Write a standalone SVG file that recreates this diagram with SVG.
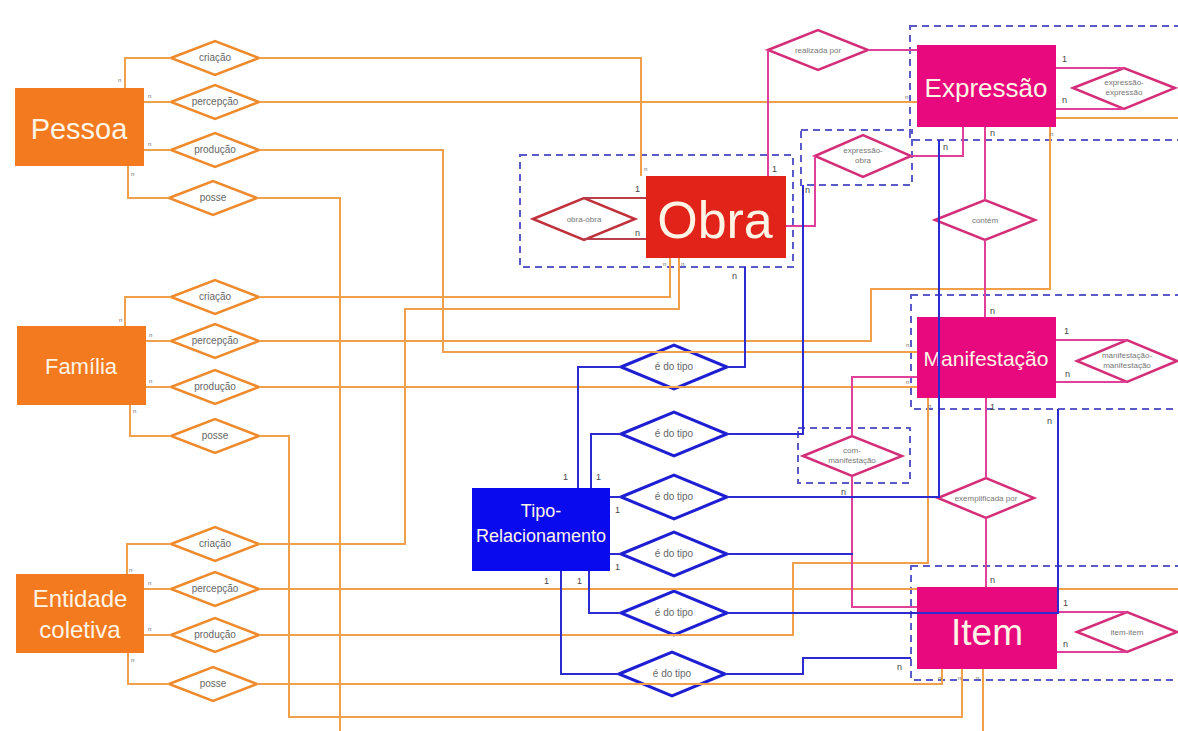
<svg xmlns="http://www.w3.org/2000/svg" width="1178" height="731" viewBox="0 0 1178 731">
<style>
.bg{fill:#fff}
.ent-o{fill:#F47A20}
.ent-txt{fill:#FFF5E6;font-family:"Liberation Sans",Arial,sans-serif;text-anchor:middle}
.d-o{fill:#fff;stroke:#EE8A2C;stroke-width:2.5}
.d-p{fill:#fff;stroke:#D42E78;stroke-width:2.5}
.d-r{fill:#fff;stroke:#C0303A;stroke-width:2.5}
.d-b{fill:#fff;stroke:#1E1ED2;stroke-width:3}
.dt{fill:#666;font-family:"Liberation Sans",Arial,sans-serif;font-size:10px;text-anchor:middle}
.dt2{fill:#777;font-family:"Liberation Sans",Arial,sans-serif;font-size:8px;text-anchor:middle}
.c-o{fill:none;stroke:#F0A04A;stroke-width:2}
.c-p{fill:none;stroke:#E0409A;stroke-width:2}
.c-r{fill:none;stroke:#B8404A;stroke-width:2}
.c-b{fill:none;stroke:#2B2BD0;stroke-width:2}
.box{fill:none;stroke:#5A5AC8;stroke-width:2;stroke-dasharray:7 5}
.card{fill:#444;font-family:"Liberation Sans",Arial,sans-serif;font-size:9px}
.cs{fill:#666;font-family:"Liberation Sans",Arial,sans-serif;font-size:6px}
</style>
<rect class="bg" x="0" y="0" width="1178" height="731"/>

<g id="dashed-boxes">
<rect class="box" x="520" y="155" width="273" height="112"/>
<rect class="box" x="801" y="130" width="111" height="55"/>
<rect class="box" x="798" y="428" width="112" height="55"/>
<rect class="box" x="910" y="26" width="290" height="114"/>
<rect class="box" x="911" y="295" width="290" height="114"/>
<rect class="box" x="911" y="566" width="290" height="114"/>
</g>

<g id="nodes">
<g id="pessoa"><rect class="ent-o" x="15" y="88" width="129" height="78"/><text class="ent-txt" x="79" y="139" font-size="29">Pessoa</text></g>
<g id="familia"><rect class="ent-o" x="17" y="326" width="129" height="79"/><text class="ent-txt" x="81" y="374" font-size="22">Família</text></g>
<g id="entidade-coletiva"><rect class="ent-o" x="16" y="574" width="128" height="79"/><text class="ent-txt" x="80" y="607" font-size="24">Entidade</text><text class="ent-txt" x="80" y="638" font-size="24">coletiva</text></g>

<g id="obra"><rect x="646" y="176" width="140" height="82" fill="#E2231A"/><text class="ent-txt" x="715" y="238" font-size="52">Obra</text></g>
<g id="expressao"><rect x="917" y="45" width="139" height="82" fill="#E8097E"/><text class="ent-txt" x="986" y="97" font-size="26">Expressão</text></g>
<g id="manifestacao"><rect x="917" y="317" width="139" height="81" fill="#E8097E"/><text class="ent-txt" x="986" y="366" font-size="21">Manifestação</text></g>
<g id="item"><rect x="917" y="587" width="140" height="82" fill="#E8097E"/><text class="ent-txt" x="987" y="645" font-size="37">Item</text></g>
<g id="tipo-relacionamento"><rect x="472" y="488" width="138" height="83" fill="#0A0AEE"/><text class="ent-txt" x="541" y="517" font-size="18">Tipo-</text><text class="ent-txt" x="541" y="542" font-size="18">Relacionamento</text></g>

<g id="pessoa-criacao"><polygon class="d-o" points="171,58 215,41 259,58 215,75"/><text class="dt" x="215" y="61">criação</text></g>
<g id="pessoa-percepcao"><polygon class="d-o" points="171,102 215,85 259,102 215,119"/><text class="dt" x="215" y="105">percepção</text></g>
<g id="pessoa-producao"><polygon class="d-o" points="171,150 215,133 259,150 215,167"/><text class="dt" x="215" y="153">produção</text></g>
<g id="pessoa-posse"><polygon class="d-o" points="169,198 213,181 257,198 213,215"/><text class="dt" x="213" y="201">posse</text></g>

<g id="familia-criacao"><polygon class="d-o" points="171,297 215,280 259,297 215,314"/><text class="dt" x="215" y="300">criação</text></g>
<g id="familia-percepcao"><polygon class="d-o" points="171,341 215,324 259,341 215,358"/><text class="dt" x="215" y="344">percepção</text></g>
<g id="familia-producao"><polygon class="d-o" points="171,387 215,370 259,387 215,404"/><text class="dt" x="215" y="390">produção</text></g>
<g id="familia-posse"><polygon class="d-o" points="171,436 215,419 259,436 215,453"/><text class="dt" x="215" y="439">posse</text></g>

<g id="entidade-criacao"><polygon class="d-o" points="171,544 215,527 259,544 215,561"/><text class="dt" x="215" y="547">criação</text></g>
<g id="entidade-percepcao"><polygon class="d-o" points="171,589 215,572 259,589 215,606"/><text class="dt" x="215" y="592">percepção</text></g>
<g id="entidade-producao"><polygon class="d-o" points="171,635 215,618 259,635 215,652"/><text class="dt" x="215" y="638">produção</text></g>
<g id="entidade-posse"><polygon class="d-o" points="169,684 213,667 257,684 213,701"/><text class="dt" x="213" y="687">posse</text></g>

<g id="obra-obra"><polygon class="d-r" points="533,219 584,198 635,219 584,240"/><text class="dt2" x="584" y="222">obra-obra</text></g>
<g id="realizada-por"><polygon class="d-p" points="768,50 818,30 868,50 818,70"/><text class="dt2" x="818" y="53">realizada por</text></g>
<g id="expressao-obra"><polygon class="d-p" points="815,156 863,135 911,156 863,177"/><text class="dt2" x="863" y="153">expressão-</text><text class="dt2" x="863" y="163">obra</text></g>
<g id="expressao-expressao"><polygon class="d-p" points="1073,88 1124,68 1175,88 1124,109"/><text class="dt2" x="1124" y="85">expressão-</text><text class="dt2" x="1124" y="95">expressão</text></g>
<g id="contem"><polygon class="d-p" points="935,220 985,200 1035,220 985,240"/><text class="dt2" x="985" y="223">contém</text></g>
<g id="manifestacao-manifestacao"><polygon class="d-p" points="1077,361 1127,340 1177,361 1127,382"/><text class="dt2" x="1127" y="358">manifestação-</text><text class="dt2" x="1127" y="368">manifestação</text></g>
<g id="com-manifestacao"><polygon class="d-p" points="803,456 852,436 902,456 852,476"/><text class="dt2" x="852" y="453">com-</text><text class="dt2" x="852" y="463">manifestação</text></g>
<g id="exemplificada-por"><polygon class="d-p" points="938,498 986,478 1034,498 986,518"/><text class="dt2" x="986" y="501">exemplificada por</text></g>
<g id="item-item"><polygon class="d-p" points="1077,632 1127,612 1177,632 1127,652"/><text class="dt2" x="1127" y="635">item-item</text></g>

<g id="e-do-tipo-1"><polygon class="d-b" points="621,367 674,345 727,367 674,389"/><text class="dt" x="674" y="370">é do tipo</text></g>
<g id="e-do-tipo-2"><polygon class="d-b" points="621,434 674,412 727,434 674,456"/><text class="dt" x="674" y="437">é do tipo</text></g>
<g id="e-do-tipo-3"><polygon class="d-b" points="621,497 674,475 727,497 674,519"/><text class="dt" x="674" y="500">é do tipo</text></g>
<g id="e-do-tipo-4"><polygon class="d-b" points="621,554 674,532 727,554 674,576"/><text class="dt" x="674" y="557">é do tipo</text></g>
<g id="e-do-tipo-5"><polygon class="d-b" points="621,613 674,591 727,613 674,635"/><text class="dt" x="674" y="616">é do tipo</text></g>
<g id="e-do-tipo-6"><polygon class="d-b" points="619,674 672,652 725,674 672,696"/><text class="dt" x="672" y="677">é do tipo</text></g>
</g>

<g id="connectors">
<path class="c-o" d="M125,88 V58 H171 M259,58 H641 V176"/>
<path class="c-o" d="M144,102 H171 M259,102 H917"/>
<path class="c-o" d="M144,150 H171 M259,150 H443 V352 H917"/>
<path class="c-o" d="M128,166 V198 H169 M257,198 H340 V731"/>
<path class="c-o" d="M125,326 V297 H171 M259,297 H670 V258"/>
<path class="c-o" d="M146,341 H171 M259,341 H871 V289 H1050 V127"/>
<path class="c-o" d="M146,387 H171 M259,387 H917"/>
<path class="c-o" d="M130,405 V436 H171 M259,436 H289 V717 H962 V669"/>
<path class="c-o" d="M127,574 V544 H171 M259,544 H405 V309 H679 V258"/>
<path class="c-o" d="M144,589 H171 M259,589 H917 M1057,589 H1178"/>
<path class="c-o" d="M144,635 H171 M259,635 H793 V563 H928 V398"/>
<path class="c-o" d="M128,653 V684 H169 M257,684 H942 V669"/>
<path class="c-o" d="M983,669 V731"/>
<path class="c-o" d="M1056,118 H1178"/>

<path class="c-r" d="M646,198 H584 M646,239 H584"/>
<path class="c-p" d="M768,176 V50 M868,50 H917"/>
<path class="c-p" d="M786,226 H815 V156 M911,156 H963 V127"/>
<path class="c-p" d="M1056,68 H1124 M1056,109 H1124"/>
<path class="c-p" d="M985,127 V200 M985,240 V317"/>
<path class="c-p" d="M1056,340 H1127 M1056,382 H1127"/>
<path class="c-p" d="M917,377 H852 V436 M852,476 V607 H917"/>
<path class="c-p" d="M986,398 V478 M986,518 V587"/>
<path class="c-p" d="M1057,612 H1127 M1057,652 H1127"/>

<path class="c-b" d="M578,488 V367 H621 M727,367 H745 V267"/>
<path class="c-b" d="M591,488 V434 H621 M727,434 H803 V185"/>
<path class="c-b" d="M610,497 H621 M727,497 H939 V140"/>
<path class="c-b" d="M610,554 H621 M727,554 H853"/>
<path class="c-b" d="M589,571 V613 H621 M727,613 H1058 V409"/>
<path class="c-b" d="M561,571 V674 H619 M725,674 H803 V658 H911"/>
</g>

<g id="cardinalities">
<text class="cs" x="118" y="82">n</text>
<text class="cs" x="148" y="98">n</text>
<text class="cs" x="148" y="146">n</text>
<text class="cs" x="131" y="176">n</text>
<text class="cs" x="119" y="322">n</text>
<text class="cs" x="149" y="337">n</text>
<text class="cs" x="149" y="383">n</text>
<text class="cs" x="133" y="413">n</text>
<text class="cs" x="129" y="572">n</text>
<text class="cs" x="148" y="585">n</text>
<text class="cs" x="148" y="631">n</text>
<text class="cs" x="131" y="662">n</text>
<text class="cs" x="644" y="171">n</text>
<text class="cs" x="663" y="266">n</text>
<text class="cs" x="681" y="266">n</text>
<text class="cs" x="905" y="99">n</text>
<text class="cs" x="1050" y="136">n</text>
<text class="cs" x="906" y="347">n</text>
<text class="cs" x="906" y="384">n</text>
<text class="cs" x="928" y="408">n</text>
<text class="cs" x="938" y="680">n</text>
<text class="cs" x="958" y="680">n</text>
<text class="cs" x="976" y="680">n</text>
<text class="card" x="635" y="192">1</text>
<text class="card" x="635" y="236">n</text>
<text class="card" x="772" y="172">1</text>
<text class="card" x="732" y="279">n</text>
<text class="card" x="805" y="193">n</text>
<text class="card" x="943" y="150">n</text>
<text class="card" x="1062" y="62">1</text>
<text class="card" x="1062" y="103">n</text>
<text class="card" x="990" y="136">n</text>
<text class="card" x="990" y="314">n</text>
<text class="card" x="1064" y="334">1</text>
<text class="card" x="1065" y="377">n</text>
<text class="card" x="990" y="410">1</text>
<text class="card" x="1047" y="424">n</text>
<text class="card" x="841" y="495">n</text>
<text class="card" x="990" y="583">n</text>
<text class="card" x="1063" y="606">1</text>
<text class="card" x="1063" y="647">n</text>
<text class="card" x="897" y="670">n</text>
<text class="card" x="563" y="480">1</text>
<text class="card" x="596" y="480">1</text>
<text class="card" x="615" y="513">1</text>
<text class="card" x="615" y="570">1</text>
<text class="card" x="544" y="584">1</text>
<text class="card" x="577" y="584">1</text>
</g>
</svg>
